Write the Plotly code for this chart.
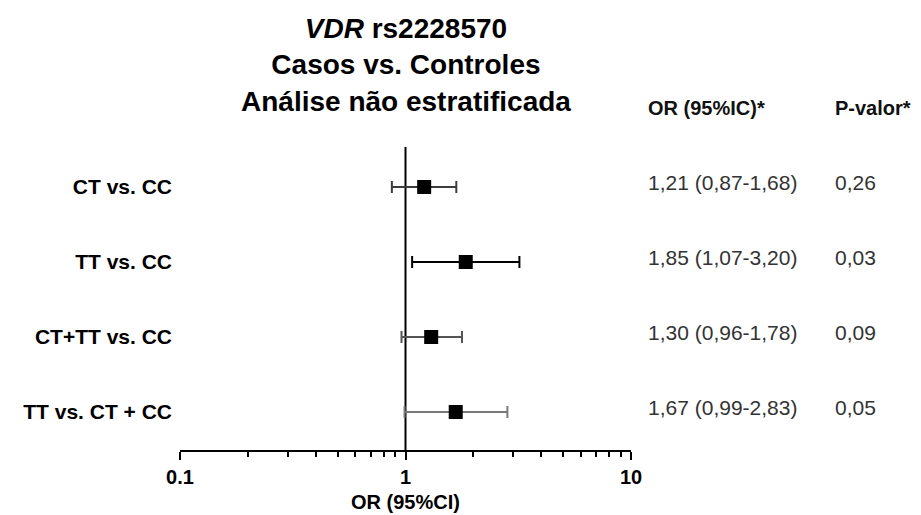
import plotly.graph_objects as go

# Forest plot data: VDR rs2228570, cases vs. controls (unstratified)
comparisons = ["CT vs. CC", "TT vs. CC", "CT+TT vs. CC", "TT vs. CT + CC"]
odds_ratio = [1.21, 1.85, 1.30, 1.67]
ci_lower = [0.87, 1.07, 0.96, 0.99]
ci_upper = [1.68, 3.20, 1.78, 2.83]
or_text = ["1,21 (0,87-1,68)", "1,85 (1,07-3,20)", "1,30 (0,96-1,78)", "1,67 (0,99-2,83)"]
p_text = ["0,26", "0,03", "0,09", "0,05"]
whisker_colors = ["#3c3c3c", "#000000", "#555555", "#7a7a7a"]

major_ticks = [0.1, 1, 10]
major_labels = ["0.1", "1", "10"]
minor_ticks = [0.2, 0.3, 0.4, 0.5, 0.6, 0.7, 0.8, 0.9, 2, 3, 4, 5, 6, 7, 8, 9]

FONT = "Liberation Sans, Arial, sans-serif"
n = len(comparisons)
row_pos = [n - i for i in range(n)]  # first comparison at the top

fig = go.Figure()
for i in range(n):
    fig.add_trace(go.Scatter(
        x=[odds_ratio[i]],
        y=[row_pos[i]],
        mode="markers",
        marker=dict(symbol="square", size=14, color="#000000"),
        error_x=dict(
            type="data", symmetric=False,
            array=[ci_upper[i] - odds_ratio[i]],
            arrayminus=[odds_ratio[i] - ci_lower[i]],
            color=whisker_colors[i], thickness=2, width=6,
        ),
        showlegend=False,
        hoverinfo="skip",
    ))

# reference line at OR = 1
fig.add_shape(type="line", xref="x", yref="paper", x0=1, x1=1, y0=0, y1=1,
              line=dict(color="#000000", width=2), layer="below")

# title block
fig.add_annotation(
    text="<i>VDR</i> rs2228570<br>Casos vs. Controles<br>Análise não estratificada",
    xref="paper", yref="paper", x=0.5, y=1.272, xanchor="center", yanchor="middle",
    showarrow=False, align="center",
    font=dict(family=FONT, size=28, color="#000000", weight="bold"),
)

# x-axis caption
fig.add_annotation(
    text="OR (95%CI)", xref="paper", yref="paper", x=0.5, y=-0.172,
    xanchor="center", yanchor="middle", showarrow=False,
    font=dict(family=FONT, size=20, color="#000000", weight="bold"),
)

# column headers
col_or_x = 1.033
col_p_x = 1.448
for txt, xp in [("OR (95%IC)*", col_or_x), ("P-valor*", col_p_x)]:
    fig.add_annotation(text=txt, xref="paper", yref="paper", x=xp, y=1.129,
                       xanchor="left", yanchor="middle", showarrow=False,
                       font=dict(family=FONT, size=20, color="#111111", weight="bold"))

# per-row estimates and p-values
for i in range(n):
    fig.add_annotation(text=or_text[i], xref="paper", yref="y", x=col_or_x, y=row_pos[i],
                       xanchor="left", yanchor="middle", yshift=4, showarrow=False,
                       font=dict(family=FONT, size=21, color="#333333"))
    fig.add_annotation(text=p_text[i], xref="paper", yref="y", x=col_p_x, y=row_pos[i],
                       xanchor="left", yanchor="middle", yshift=4, showarrow=False,
                       font=dict(family=FONT, size=21, color="#333333"))

fig.update_layout(
    width=921, height=515,
    margin=dict(l=180, r=290, t=147, b=65, autoexpand=False),
    paper_bgcolor="#ffffff", plot_bgcolor="#ffffff",
    font=dict(family=FONT, color="#000000"),
    xaxis=dict(
        type="log", range=[-1, 1],
        tickmode="array", tickvals=major_ticks, ticktext=major_labels,
        ticks="outside", ticklen=8, tickwidth=2, tickcolor="#000000",
        showline=True, linewidth=2, linecolor="#000000",
        showgrid=False, zeroline=False,
        tickfont=dict(family=FONT, size=20, color="#000000", weight="bold"),
        minor=dict(tickmode="array", tickvals=minor_ticks, ticks="outside",
                   ticklen=5, tickwidth=2, tickcolor="#000000", showgrid=False),
        automargin=False, fixedrange=True,
    ),
    yaxis=dict(
        range=[0.493, 4.533],
        tickmode="array", tickvals=row_pos, ticktext=comparisons,
        ticks="", showline=False, showgrid=False, zeroline=False,
        ticklabelstandoff=7,
        tickfont=dict(family=FONT, size=21, color="#000000", weight="bold"),
        automargin=False, fixedrange=True,
    ),
)

fig.write_html("out.html")
